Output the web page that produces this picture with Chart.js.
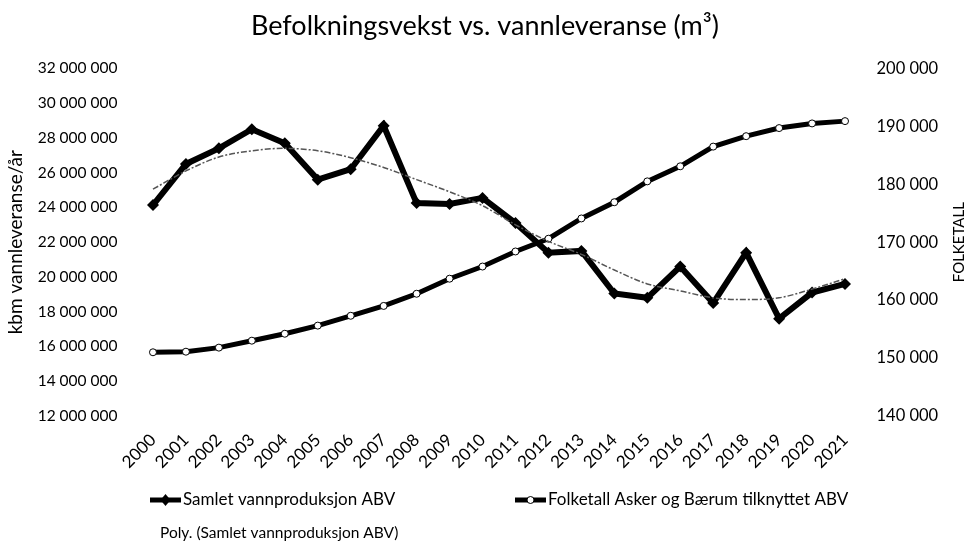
<!DOCTYPE html>
<html>
<head>
<meta charset="utf-8">
<script src="https://cdn.jsdelivr.net/npm/chart.js@4/dist/chart.umd.min.js"></script>
<style>
  html, body { margin: 0; padding: 0; background: #fff; }
  #chart { display: block; }
</style>
</head>
<body>
<canvas id="chart" width="970" height="546"></canvas>
<script>
const years = ["2000", "2001", "2002", "2003", "2004", "2005", "2006", "2007", "2008", "2009", "2010",
  "2011", "2012", "2013", "2014", "2015", "2016", "2017", "2018", "2019", "2020", "2021"];

// kbm per year (left axis)
const waterProduction = [24140000, 26500000, 27400000, 28500000, 27700000, 25600000, 26200000, 28700000,
  24250000, 24200000, 24550000, 23100000, 21400000, 21500000, 19050000, 18800000, 20600000, 18500000,
  21400000, 17600000, 19100000, 19600000];

// population (right axis)
const population = [151000, 151100, 151800, 153000, 154200, 155600, 157300, 159000, 161100, 163700,
  165800, 168400, 170600, 174100, 176900, 180500, 183100, 186500, 188300, 189700, 190500, 190900];

// polynomial trend
const waterTrend = [25050000, 26100000, 26900000, 27260000, 27400000, 27260000, 26860000, 26300000,
  25600000, 24900000, 24100000, 23000000, 22050000, 21300000, 20400000, 19600000, 19200000, 18800000,
  18700000, 18800000, 19300000, 19900000];

const seriesNames = ["Samlet vannproduksjon ABV", "Folketall Asker og Bærum tilknyttet ABV",
  "Poly. (Samlet vannproduksjon ABV)"];

const rightTitle = "FOLKETALL";

const FONT = "Lato, 'Noto Sans', sans-serif";

const spaced = v => Math.round(v).toString().replace(/\B(?=(\d{3})+(?!\d))/g, " ");

// legend drawn like the spreadsheet one, in two rows under the axis
const bottomLegend = {
  id: "bottomLegend",
  afterDraw(chart) {
    const { ctx } = chart;
    const spots = [
      { x: 150, y: 500, ds: 0, size: 17 },
      { x: 515, y: 500, ds: 1, size: 17 },
      { x: 127, y: 533, ds: 2, size: 15.5 },
    ];
    ctx.save();
    ctx.textBaseline = "middle";
    ctx.fillStyle = "#000";
    for (const s of spots) {
      const ds = chart.data.datasets[s.ds];
      if (s.ds !== 2) {
        ctx.strokeStyle = "#000";
        ctx.lineWidth = 5;
        ctx.beginPath();
        ctx.moveTo(s.x, s.y);
        ctx.lineTo(s.x + 31, s.y);
        ctx.stroke();
        const mx = s.x + 15.5;
        if (ds.pointStyle === "rectRot") {
          ctx.beginPath();
          ctx.moveTo(mx, s.y - 6);
          ctx.lineTo(mx + 5, s.y);
          ctx.lineTo(mx, s.y + 6);
          ctx.lineTo(mx - 5, s.y);
          ctx.closePath();
          ctx.fill();
        } else {
          ctx.beginPath();
          ctx.arc(mx, s.y, 3.5, 0, Math.PI * 2);
          ctx.fillStyle = "#fff";
          ctx.fill();
          ctx.lineWidth = 1;
          ctx.stroke();
          ctx.fillStyle = "#000";
        }
      }
      ctx.font = s.size + "px " + FONT;
      ctx.fillText(ds.label, s.x + 33, s.y);
    }

    // right axis title reads bottom-to-top as in the original
    ctx.font = "15px " + FONT;
    ctx.textAlign = "center";
    ctx.translate(959, (chart.chartArea.top + chart.chartArea.bottom) / 2);
    ctx.rotate(-Math.PI / 2);
    ctx.fillText(rightTitle, 0, 0);
    ctx.restore();
  }
};

const ctx = document.getElementById("chart").getContext("2d");

new Chart(ctx, {
  type: "line",
  data: {
    labels: years,
    datasets: [
      {
        label: seriesNames[0],
        data: waterProduction,
        yAxisID: "y",
        borderColor: "#000",
        backgroundColor: "#000",
        borderWidth: 6,
        pointStyle: "rectRot",
        pointRadius: 6,
        pointBorderWidth: 0,
        tension: 0,
        order: 1
      },
      {
        label: seriesNames[1],
        data: population,
        yAxisID: "y1",
        borderColor: "#000",
        backgroundColor: "#fff",
        borderWidth: 5,
        pointStyle: "circle",
        pointRadius: 3.5,
        pointBorderWidth: 1,
        pointBorderColor: "#000",
        pointBackgroundColor: "#fff",
        tension: 0,
        order: 2
      },
      {
        label: seriesNames[2],
        data: waterTrend,
        yAxisID: "y",
        borderColor: "#555",
        borderWidth: 1.5,
        borderDash: [6, 2, 2, 2],
        pointRadius: 0,
        cubicInterpolationMode: "monotone",
        order: 0
      }
    ]
  },
  options: {
    responsive: false,
    animation: false,
    layout: { padding: { left: 0, right: 0, top: 0, bottom: 0 } },
    plugins: {
      legend: { display: false },
      tooltip: { enabled: false },
      title: {
        display: true,
        text: "Befolkningsvekst vs. vannleveranse (m³)",
        color: "#000",
        font: { family: FONT, size: 27, weight: "normal" },
        padding: { top: 10, bottom: 26 }
      }
    },
    scales: {
      x: {
        offset: true,
        grid: { display: false, drawTicks: false, offset: true },
        border: { display: false },
        ticks: {
          color: "#000",
          font: { family: FONT, size: 17 },
          minRotation: 45,
          maxRotation: 45,
          padding: 14,
          autoSkip: false
        },
        afterFit: s => { s.height = 130; }
      },
      y: {
        position: "left",
        min: 12000000,
        max: 32000000,
        grid: { display: false, drawTicks: false },
        border: { display: false },
        ticks: {
          stepSize: 2000000,
          color: "#000",
          font: { family: FONT, size: 15.5 },
          padding: 19,
          callback: v => spaced(v)
        },
        title: {
          display: true,
          text: "kbm vannleveranse/år",
          color: "#000",
          font: { family: FONT, size: 19 },
          padding: { top: 4, bottom: 0 }
        },
        afterFit: s => { s.width = 136.5; }
      },
      y1: {
        position: "right",
        min: 140000,
        max: 200000,
        grid: { display: false, drawTicks: false },
        border: { display: false },
        ticks: {
          stepSize: 10000,
          color: "#000",
          font: { family: FONT, size: 16.5 },
          padding: 15,
          callback: v => spaced(v)
        },
        afterFit: s => { s.width = 108.5; }
      }
    }
  },
  plugins: [bottomLegend]
});
</script>
</body>
</html>
